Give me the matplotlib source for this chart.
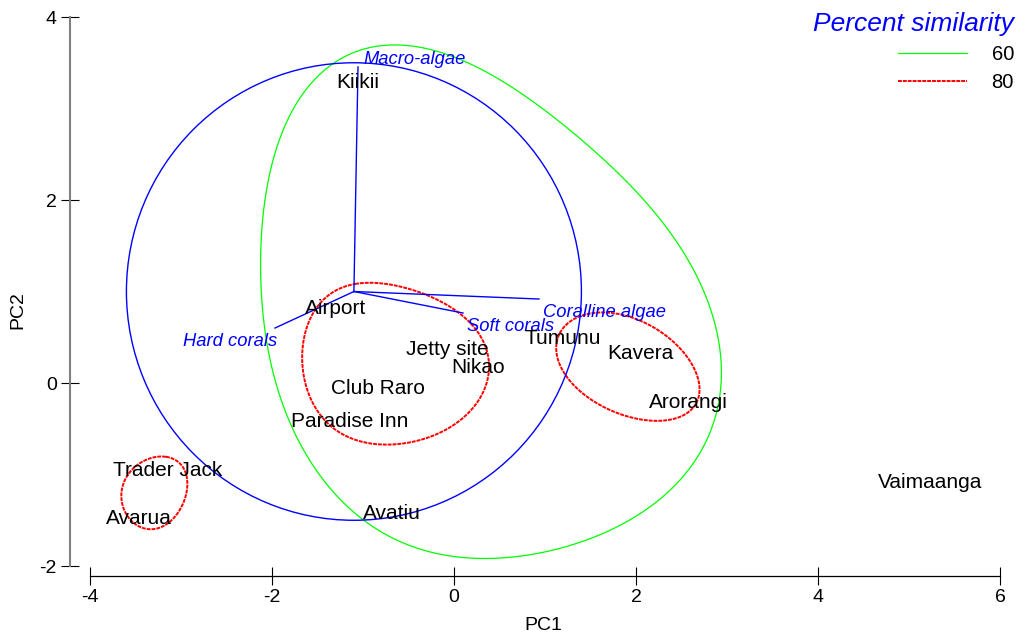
import numpy as np
import matplotlib
matplotlib.use("Agg")
import matplotlib.pyplot as plt
from matplotlib.patches import Circle, Polygon
from matplotlib.lines import Line2D
from matplotlib.transforms import offset_copy

plt.rcParams['font.family'] = ['Liberation Sans', 'DejaVu Sans']
plt.rcParams['axes.unicode_minus'] = False

# ---- site scores (PC1, PC2) ----
sites = ["Kiikii", "Airport", "Jetty site", "Nikao", "Club Raro", "Paradise Inn",
         "Tumunu", "Kavera", "Arorangi", "Trader Jack", "Avarua", "Avatiu", "Vaimaanga"]
pc1 = [-1.055, -1.30, -0.077, 0.264, -0.835, -1.143, 1.198, 2.044, 2.58, -3.15, -3.467, -0.681, 5.23]
pc2 = [3.31, 0.84, 0.393, 0.186, -0.033, -0.404, 0.503, 0.339, -0.19, -0.93, -1.454, -1.40, -1.06]

# ---- biplot vectors ----
vector_names = ["Macro-algae", "Hard corals", "Soft corals", "Coralline algae"]
vector_origin = (-1.10, 1.00)
vector_x = [-1.055, -1.967, 0.099, 0.934]
vector_y = [3.454, 0.601, 0.765, 0.918]
vector_label_x = [-1.00, -1.945, 0.143, 0.978]
vector_label_y = [3.55, 0.47, 0.634, 0.787]
vector_label_ha = ["left", "right", "left", "left"]
circle_radius = 2.5

# ---- similarity contours ----
green60_x = [-2.132, -1.989, -1.692, -1.253, -0.780, -0.154, 0.582, 1.681, 2.407, 2.846,
             2.945, 2.846, 2.516, 1.857, 0.945, 0.143, -0.703, -1.440, -1.879, -2.077]
green60_y = [1.257, 2.350, 3.104, 3.574, 3.705, 3.596, 3.257, 2.426, 1.596, 0.656,
             0.087, -0.481, -1.038, -1.530, -1.836, -1.934, -1.683, -1.038, -0.208, 0.470]

red80a_x = [-1.066, -0.341, 0.099, 0.363, 0.396, 0.253, -0.077, -0.593, -0.956, -1.330,
            -1.549, -1.637, -1.615, -1.440]
red80a_y = [1.093, 0.962, 0.721, 0.393, 0.109, -0.219, -0.481, -0.656, -0.667, -0.514,
            -0.219, 0.219, 0.612, 0.940]
red80b_x = [1.077, 1.143, 1.352, 1.714, 2.077, 2.451, 2.681, 2.747, 2.670, 2.407,
            2.077, 1.714, 1.352, 1.143]
red80b_y = [0.437, 0.612, 0.732, 0.765, 0.612, 0.361, 0.109, -0.109, -0.317, -0.415,
            -0.383, -0.240, -0.022, 0.197]
red80c_x = [-3.176, -2.989, -2.934, -2.978, -3.088, -3.264, -3.451, -3.615, -3.648, -3.560, -3.374]
red80c_y = [-0.798, -0.874, -1.060, -1.279, -1.475, -1.596, -1.585, -1.421, -1.246, -0.984, -0.842]

legend_labels = ["60", "80"]


def smooth_closed(xs, ys, harmonics=4, n=400):
    """Smooth closed outline: least-squares Fourier fit through the read points."""
    P = np.column_stack([xs, ys]).astype(float)
    d = np.linalg.norm(np.diff(np.vstack([P, P[:1]]), axis=0), axis=1)
    t = np.concatenate([[0], np.cumsum(d)[:-1]]) / d.sum() * 2 * np.pi

    def design(tt):
        cols = [np.ones_like(tt)]
        for k in range(1, harmonics + 1):
            cols += [np.cos(k * tt), np.sin(k * tt)]
        return np.column_stack(cols)

    A = design(t)
    cx = np.linalg.lstsq(A, P[:, 0], rcond=None)[0]
    cy = np.linalg.lstsq(A, P[:, 1], rcond=None)[0]
    tt = np.linspace(0, 2 * np.pi, n, endpoint=False)
    B = design(tt)
    return np.column_stack([B @ cx, B @ cy])


W, H = 1018, 637
fig = plt.figure(figsize=(W / 100, H / 100), dpi=100)
ax = fig.add_axes([70 / W, 61 / H, 930 / W, 559 / H])
ax.set_xlim(-4.22, 6.0)
ax.set_ylim(-2.109, 4.0)

green_style = dict(color="#00ff00", lw=0.9)
red_style = dict(color="#ff0000", lw=1.4, ls=(0, (2.0, 0.5)))

ax.add_patch(Polygon(smooth_closed(green60_x, green60_y, harmonics=5), closed=True,
                     fill=False, ec=green_style["color"], lw=green_style["lw"]))
for xs, ys, k in [(red80a_x, red80a_y, 3), (red80b_x, red80b_y, 2), (red80c_x, red80c_y, 2)]:
    ax.add_patch(Polygon(smooth_closed(xs, ys, harmonics=k), closed=True, fill=False,
                         ec=red_style["color"], lw=red_style["lw"], ls=red_style["ls"]))

# vector circle and vectors
ax.add_patch(Circle(vector_origin, circle_radius, fill=False, ec="#0000ff", lw=1.0))
for vx, vy in zip(vector_x, vector_y):
    ax.plot([vector_origin[0], vx], [vector_origin[1], vy], color="#0000ff", lw=1.0)
vec_tr = offset_copy(ax.transData, fig=fig, x=0, y=-1.5, units="dots")
for name, lx, ly, ha in zip(vector_names, vector_label_x, vector_label_y, vector_label_ha):
    ax.text(lx, ly, name, color="#0000ff", fontsize=13.2, style="italic",
            ha=ha, va="center", transform=vec_tr)

# site labels
site_tr = offset_copy(ax.transData, fig=fig, x=0, y=-2, units="dots")
for name, x, y in zip(sites, pc1, pc2):
    ax.text(x, y, name, fontsize=15, color="black", ha="center", va="center",
            transform=site_tr)

# axes styling
for s in ["top", "right"]:
    ax.spines[s].set_visible(False)
ax.spines["left"].set_bounds(-2, 4)
ax.spines["left"].set_color("#808080")
ax.spines["left"].set_linewidth(1.5)
ax.spines["bottom"].set_bounds(-4, 6)
ax.spines["bottom"].set_color("black")
ax.spines["bottom"].set_linewidth(0.9)
ax.set_xticks([-4, -2, 0, 2, 4, 6])
ax.set_yticks([-2, 0, 2, 4])
ax.tick_params(axis="both", direction="inout", length=13, width=0.8, colors="black",
               labelsize=14, pad=3)

fig.text(543 / W, 1 - 626 / H, "PC1", fontsize=14, ha="center", va="center")
fig.text(18 / W, 1 - 310 / H, "PC2", fontsize=14, ha="center", va="center", rotation=90)

handles = [Line2D([], [], **green_style), Line2D([], [], **red_style)]
leg = ax.legend(handles=handles, labels=legend_labels, loc="upper right",
                bbox_to_anchor=(1014 / W, 1 - 12 / H), bbox_transform=fig.transFigure,
                frameon=False, fontsize=14.5, handlelength=3.45, handletextpad=1.2,
                labelspacing=0.45, borderpad=0, borderaxespad=0,
                title="Percent similarity",
                title_fontproperties={"size": 19, "style": "italic"},
                alignment="right")
leg.get_title().set_color("#0000ff")

fig.savefig("out.png", dpi=100)
